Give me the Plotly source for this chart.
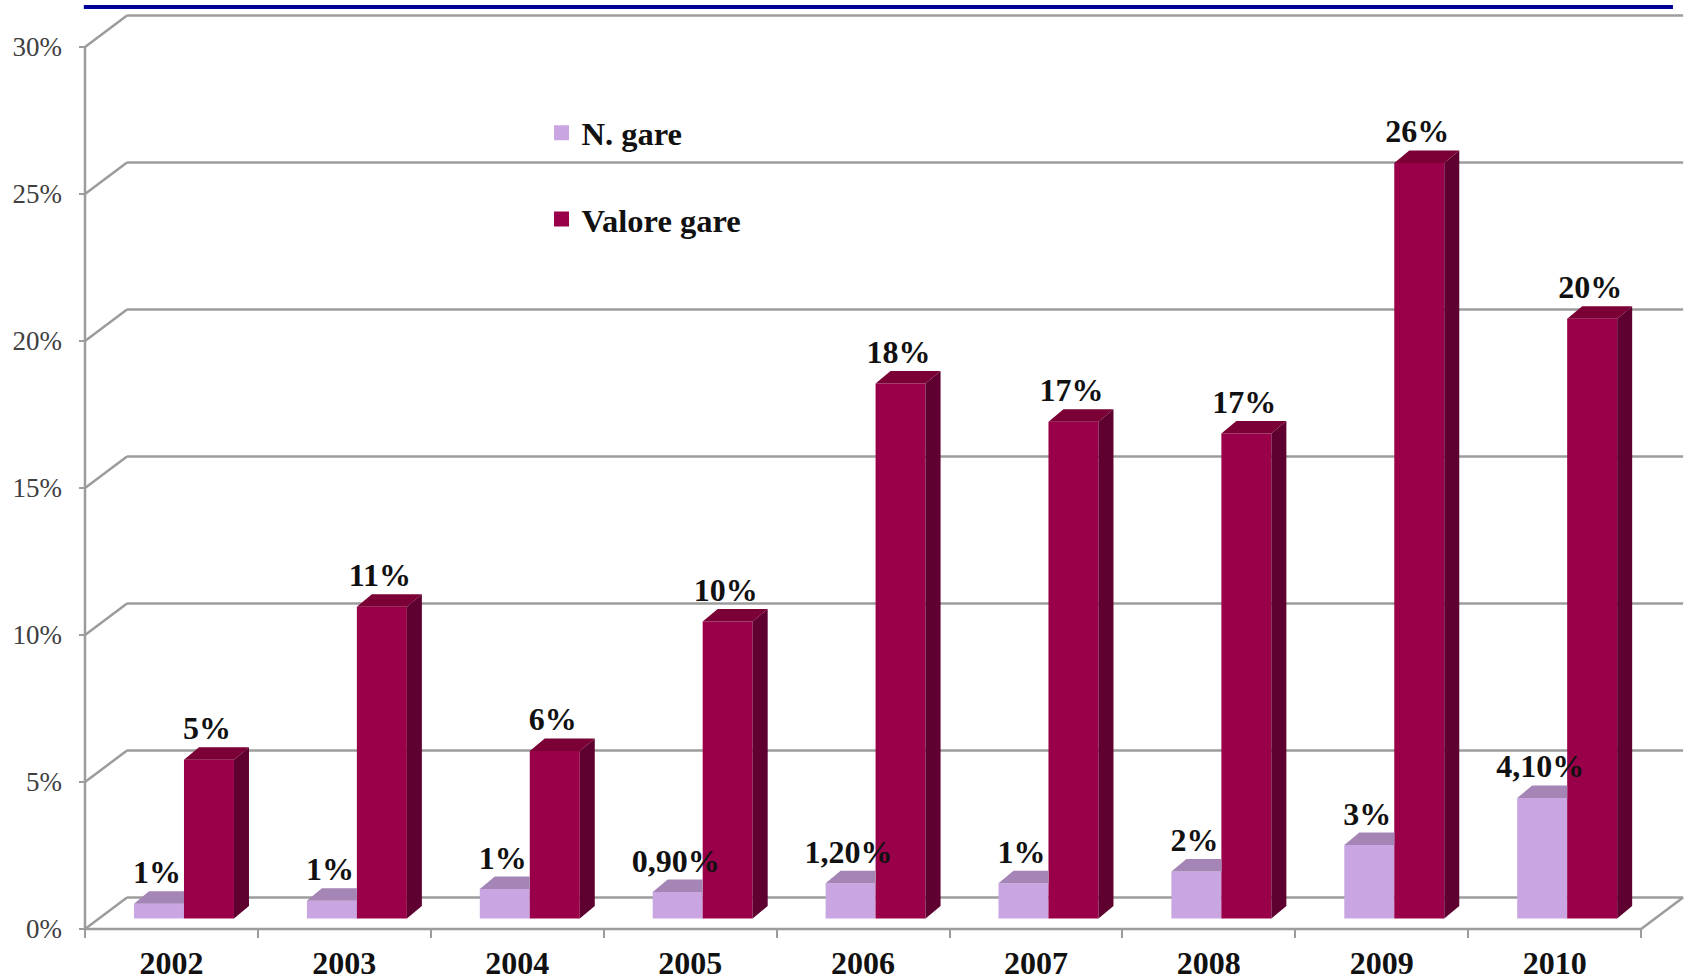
import plotly.graph_objects as go

categories = ["2002", "2003", "2004", "2005", "2006", "2007", "2008", "2009", "2010"]
n_gare = [0.5, 0.6, 1.0, 0.9, 1.2, 1.2, 1.6, 2.5, 4.1]
valore_gare = [5.4, 10.6, 5.7, 10.1, 18.2, 16.9, 16.5, 25.7, 20.4]
n_labels = ["1%", "1%", "1%", "0,90%", "1,20%", "1%", "2%", "3%", "4,10%"]
valore_labels = ["5%", "11%", "6%", "10%", "18%", "17%", "17%", "26%", "20%"]
y_ticks = [0, 5, 10, 15, 20, 25, 30]
y_tick_labels = ["0%", "5%", "10%", "15%", "20%", "25%", "30%"]

# Geometry of the pseudo-3D box, in axis units
PX_X, PX_Y = 172.9, 29.4
WALL_DX, WALL_DY = 42 / PX_X, 31.5 / PX_Y
BAR_DX, BAR_DY = 15 / PX_X, 12.5 / PX_Y
FLOOR = 10.5 / PX_Y
BAR_W = 50 / PX_X
N_OFF, V_OFF = 0.428, 0.717
LABEL_NUDGE = -2 / PX_X
GRID = "#9c9c9c"
LIGHT, LIGHT_TOP = "#c9a6e2", "#a585b5"
DARK, DARK_TOP, DARK_SIDE = "#990049", "#7a0035", "#5e0030"
BOLD = dict(family="Liberation Serif", size=32, color="#111111", weight="bold")

n = len(categories)
fig = go.Figure()

fig.add_bar(x=[i + N_OFF for i in range(n)], y=n_gare, base=FLOOR, width=BAR_W,
            marker=dict(color=LIGHT, line_width=0), showlegend=False, hoverinfo="skip")
fig.add_bar(x=[i + V_OFF for i in range(n)], y=valore_gare, base=FLOOR, width=BAR_W,
            marker=dict(color=DARK, line_width=0), showlegend=False, hoverinfo="skip")


def polygons(values, off, clip_right=False):
    top_x, top_y, side_x, side_y = [], [], [], []
    for i, v in enumerate(values):
        x0 = i + off - BAR_W / 2
        x1 = i + off + BAR_W / 2
        t = v + FLOOR
        back_right = x1 if clip_right else x1 + BAR_DX
        top_x += [x0, x1, back_right, x0 + BAR_DX, None]
        top_y += [t, t, t + BAR_DY, t + BAR_DY, None]
        side_x += [x1, x1 + BAR_DX, x1 + BAR_DX, x1, None]
        side_y += [FLOOR, FLOOR + BAR_DY, t + BAR_DY, t, None]
    return top_x, top_y, side_x, side_y


def face(x, y, color):
    fig.add_scatter(x=x, y=y, mode="lines", fill="toself", fillcolor=color,
                    line=dict(width=0, color=color), showlegend=False, hoverinfo="skip")


lt_x, lt_y, _, _ = polygons(n_gare, N_OFF, clip_right=True)
face(lt_x, lt_y, LIGHT_TOP)
dt_x, dt_y, ds_x, ds_y = polygons(valore_gare, V_OFF)
face(ds_x, ds_y, DARK_SIDE)
face(dt_x, dt_y, DARK_TOP)

fig.add_scatter(x=[i + N_OFF + LABEL_NUDGE for i in range(n)], y=[v + FLOOR + BAR_DY for v in n_gare],
                mode="text", text=n_labels, textposition="top center", textfont=BOLD,
                showlegend=False, hoverinfo="skip", cliponaxis=False)
fig.add_scatter(x=[i + V_OFF + LABEL_NUDGE for i in range(n)], y=[v + FLOOR + BAR_DY for v in valore_gare],
                mode="text", text=valore_labels, textposition="top center", textfont=BOLD,
                showlegend=False, hoverinfo="skip", cliponaxis=False)

# Legend entries with square swatches
fig.add_scatter(x=[None], y=[None], mode="markers", name="N. gare", legendgroup="a",
                marker=dict(symbol="square", size=15, color=LIGHT), hoverinfo="skip")
fig.add_scatter(x=[None], y=[None], mode="markers", name="Valore gare", legendgroup="b",
                marker=dict(symbol="square", size=15, color=DARK), hoverinfo="skip")

shapes = []


def seg(x0, y0, x1, y1):
    shapes.append(dict(type="line", layer="below", xref="x", yref="y", x0=x0, y0=y0, x1=x1, y1=y1,
                       line=dict(color=GRID, width=2.5)))


for t in y_ticks:
    seg(0, t, WALL_DX, t + WALL_DY)
    seg(WALL_DX, t + WALL_DY, n + WALL_DX, t + WALL_DY)
seg(0, 0, 0, y_ticks[-1])
seg(0, 0, n, 0)
seg(n, 0, n + WALL_DX, WALL_DY)
shapes.append(dict(type="line", layer="above", xref="paper", yref="paper",
                   x0=0.003, x1=0.9925, y0=1.0033, y1=1.0033,
                   line=dict(color="#000099", width=4)))

fig.update_layout(
    width=1685, height=980,
    margin=dict(l=79, r=0, t=10, b=42, pad=0),
    paper_bgcolor="white", plot_bgcolor="white",
    barmode="overlay",
    shapes=shapes,
    showlegend=True,
    legend=dict(x=0.288, y=0.8975, xanchor="left", yanchor="top", traceorder="grouped",
                tracegroupgap=41, bgcolor="rgba(0,0,0,0)", itemclick=False,
                font=dict(family="Liberation Serif", size=32.5, color="#111111", weight="bold")),
    xaxis=dict(range=[-6 / PX_X, 1600 / PX_X], showgrid=False, zeroline=False, showline=False,
               automargin=False,
               tickmode="array", tickvals=[i + 0.5 for i in range(n)], ticktext=categories,
               ticks="", ticklabelstandoff=3, tickfont=BOLD,
               minor=dict(tickmode="array", tickvals=list(range(n + 1)), ticks="inside",
                          ticklen=9, tickwidth=2, tickcolor=GRID, showgrid=False)),
    yaxis=dict(range=[-9 / PX_Y, 919 / PX_Y], showgrid=False, zeroline=False, showline=False,
               automargin=False,
               tickmode="array", tickvals=y_ticks, ticktext=y_tick_labels,
               ticks="inside", ticklen=6, tickwidth=2, tickcolor=GRID, ticklabelstandoff=16,
               tickfont=dict(family="Liberation Serif", size=27, color="#404040")),
)

fig.write_html("out.html", config={"displayModeBar": False},
               post_script="document.body.style.margin='0';")
